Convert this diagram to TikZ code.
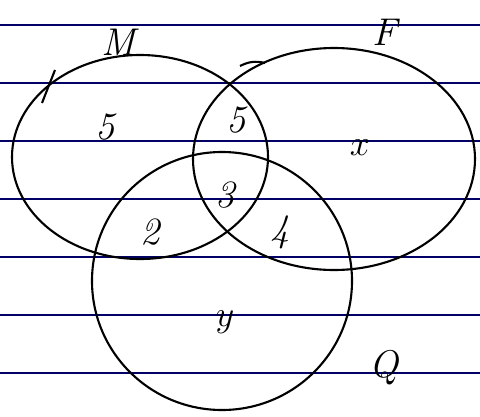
\documentclass[tikz,border=0pt]{standalone}
\begin{document}
\begin{tikzpicture}[x=0.02cm, y=-0.02cm, every node/.style={font=\fontsize{22}{24}\selectfont\itshape}]
  \useasboundingbox (0,0) rectangle (480,416);
  % ruled paper
  \foreach \yy in {25,83,141,199,257,315,373}
    \draw[blue!40!black, line width=0.8pt] (0,\yy) -- (480,\yy);
  % sets
  \draw[line width=1.2pt] (140,157) ellipse [x radius=128, y radius=102];
  \draw[line width=1.2pt] (334,159) ellipse [x radius=141, y radius=111];
  \draw[line width=1.2pt] (222,281) ellipse [x radius=130, y radius=129];
  \draw[line width=1.2pt] (42,103) -- (55,70);
  \draw[line width=1.2pt] (240,66) to[bend left=20] (265,63);
  % labels
  \node (m) at (118,42) {M};
  \node (f) at (385,32) {F};
  \node (q) at (384,368) {Q};
  \node (mo) at (105,127) {5};
  \node (mf) at (236,120) {5};
  \node (fo) at (360,148) {$x$};
  \node (mfq) at (225,195) {3};
  \node (mq) at (150,232) {2};
  \node (fq) at (280,232) {4};
  \node (qo) at (225,322) {$y$};
\end{tikzpicture}
\end{document}
